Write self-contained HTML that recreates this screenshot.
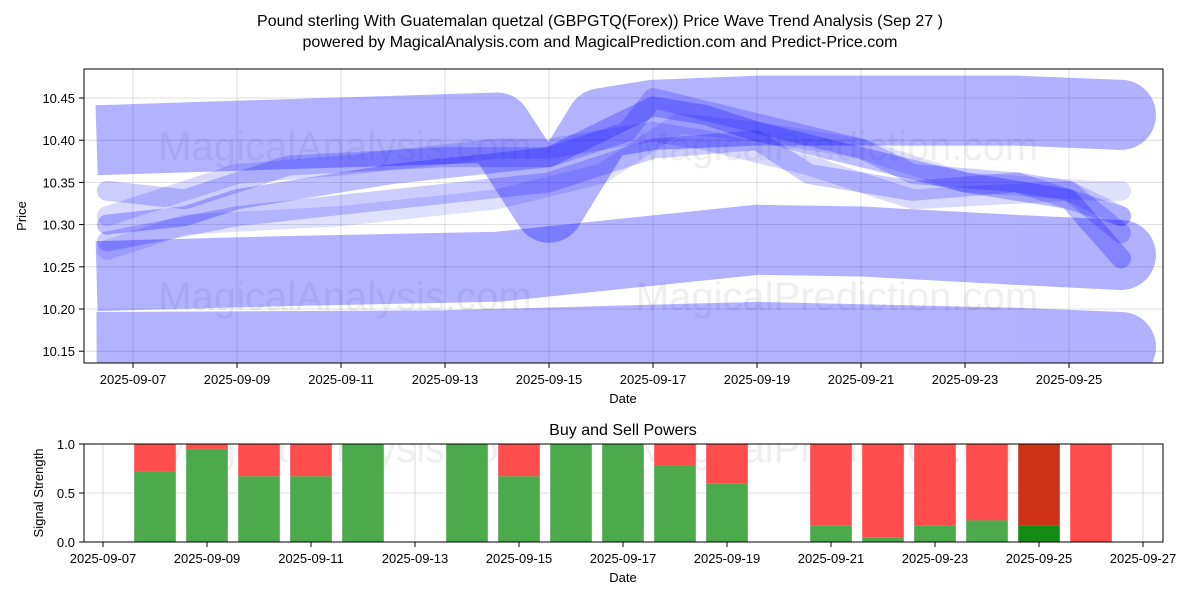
<!DOCTYPE html>
<html><head><meta charset="utf-8"><style>
body{margin:0;background:#fff;width:1200px;height:600px;overflow:hidden}
svg{font-family:"Liberation Sans","DejaVu Sans",sans-serif}
</style></head><body>
<svg id="c" width="1200" height="600" xmlns="http://www.w3.org/2000/svg">
<rect width="1200" height="600" fill="#fff"/>
<text x="600" y="26" text-anchor="middle" font-size="16">Pound sterling With Guatemalan quetzal (GBPGTQ(Forex)) Price Wave Trend Analysis (Sep 27 )</text>
<text x="600" y="47" text-anchor="middle" font-size="16">powered by MagicalAnalysis.com and MagicalPrediction.com and Predict-Price.com</text>
<defs><clipPath id="cp1"><rect x="84" y="69" width="1079" height="294"/></clipPath><clipPath id="cp2"><rect x="84" y="444" width="1079" height="98"/></clipPath></defs>
<g id="topg"></g>
<g id="botg"></g>
</svg>
<script>
// top chart data
const bandDays = [[6.3,14,15,16,17,19,24,26],[6.3,10,14,19,21,24,26],[6.3,13,19,24,26]];
const bandVals = [[10.40,10.415,10.32,10.42,10.43,10.435,10.435,10.43],[10.239,10.245,10.25,10.282,10.28,10.27,10.264],[10.155,10.157,10.167,10.16,10.155]];
const waveDays = [[6.5,8,9,12,15,17,18,19,21,23,25,26],[6.5,8,10,13,15,16.5,17,19,21,22,24,26],[6.5,7.5,9,11,14,15,17,18,20,22,25,26],[6.5,9,12,15,17,19,20,22,24,25,26],[6.5,8,11,14,16,17.5,19,21,23,25.5,26]];
const waveVals = [[10.30,10.31,10.33,10.36,10.38,10.44,10.43,10.41,10.38,10.35,10.33,10.26],[10.34,10.33,10.37,10.38,10.38,10.41,10.45,10.42,10.39,10.36,10.35,10.31],[10.31,10.33,10.36,10.37,10.39,10.39,10.41,10.40,10.37,10.33,10.34,10.31],[10.28,10.31,10.33,10.35,10.39,10.40,10.36,10.34,10.35,10.34,10.29],[10.27,10.30,10.31,10.33,10.36,10.42,10.41,10.39,10.35,10.34,10.34]];
const waveOp = [0.25,0.2,0.15,0.2,0.12];
const yTicks = [10.15,10.20,10.25,10.30,10.35,10.40,10.45];
const xTickDays = [7,9,11,13,15,17,19,21,23,25];
// bottom chart data
const barDays = [8,9,10,11,12,14,15,16,17,18,19,21,22,23,24,25,26];
const buyVals = [0.72,0.95,0.67,0.67,1.0,1.0,0.67,1.0,1.0,0.78,0.6,0.17,0.05,0.17,0.22,0.17,0];
const bTicks = [0,0.5,1.0];
const bxTickDays = [7,9,11,13,15,17,19,21,23,25,27];

const NS="http://www.w3.org/2000/svg";
const xT=d=>133+(d-7)*52, yT=v=>98+(10.45-v)*844;
const xB=d=>103+(d-7)*52, yB=v=>542-v*98;
function mk(p,t,a){const e=document.createElementNS(NS,t);for(const k in a)e.setAttribute(k,a[k]);p.appendChild(e);return e;}
const topG=document.getElementById('topg'), botG=document.getElementById('botg');
xTickDays.forEach(d=>{const l=mk(topG,'line',{x1:xT(d),x2:xT(d),y1:69,y2:363,stroke:'#b0b0b0','stroke-width':0.8,opacity:0.5});


mk(topG,'line',{x1:xT(d),x2:xT(d),y1:363,y2:368,stroke:'#000'});
const t=mk(topG,'text',{x:xT(d),y:384,'text-anchor':'middle','font-size':13});t.textContent='2025-09-'+String(d).padStart(2,'0');

});
yTicks.forEach(v=>{const l=mk(topG,'line',{x1:84,x2:1163,y1:yT(v),y2:yT(v),stroke:'#b0b0b0','stroke-width':0.8,opacity:0.5});


mk(topG,'line',{x1:79,x2:84,y1:yT(v),y2:yT(v),stroke:'#000'});
const t=mk(topG,'text',{x:75,y:yT(v)+5,'text-anchor':'end','font-size':13});t.textContent=v.toFixed(2);

});
const g=mk(topG,'g',{'clip-path':'url(#cp1)'});
[['MagicalAnalysis.com',345,160],['MagicalPrediction.com',837,160],['MagicalAnalysis.com',345,310],['MagicalPrediction.com',837,310]].forEach(w=>{const t=mk(g,'text',{x:w[1],y:w[2],'text-anchor':'middle','font-size':40,fill:'#000',opacity:0.06});t.textContent=w[0];

});
bandDays.forEach((ds,i)=>{const bg=mk(g,'g',{opacity:0.3});
const pts=ds.map((d,j)=>xT(d)+','+yT(bandVals[i][j])).join(' ');
const p=mk(bg,'polyline',{points:pts,fill:'none',stroke:'#0000ff','stroke-width':70,'stroke-linejoin':'round','stroke-linecap':'butt'});


const n=ds.length-1;mk(bg,'circle',{cx:xT(ds[n]),cy:yT(bandVals[i][n]),r:35,fill:'#0000ff'});});
waveDays.forEach((ds,i)=>{const pts=ds.map((d,j)=>xT(d)+','+yT(waveVals[i][j])).join(' ');
const p=mk(g,'polyline',{points:pts,fill:'none',stroke:'#0000ff','stroke-opacity':waveOp[i],'stroke-width':20,'stroke-linejoin':'round','stroke-linecap':'round'});

});
mk(topG,'rect',{x:84,y:69,width:1079,height:294,fill:'none',stroke:'#000'});
let t=mk(topG,'text',{x:623,y:403,'text-anchor':'middle','font-size':13});t.textContent='Date';

t=mk(topG,'text',{x:26,y:216,'text-anchor':'middle','font-size':13,transform:'rotate(-90 26 216)'});t.textContent='Price';

t=mk(botG,'text',{x:623,y:435,'text-anchor':'middle','font-size':16});t.textContent='Buy and Sell Powers';

bxTickDays.forEach(d=>{const l=mk(botG,'line',{x1:xB(d),x2:xB(d),y1:444,y2:542,stroke:'#b0b0b0','stroke-width':0.8,opacity:0.5});


mk(botG,'line',{x1:xB(d),x2:xB(d),y1:542,y2:547,stroke:'#000'});
const tt=mk(botG,'text',{x:xB(d),y:563,'text-anchor':'middle','font-size':13});tt.textContent='2025-09-'+String(d).padStart(2,'0');

});
bTicks.forEach(v=>{const l=mk(botG,'line',{x1:84,x2:1163,y1:yB(v),y2:yB(v),stroke:'#b0b0b0','stroke-width':0.8,opacity:0.5});


mk(botG,'line',{x1:79,x2:84,y1:yB(v),y2:yB(v),stroke:'#000'});
const tt=mk(botG,'text',{x:75,y:yB(v)+5,'text-anchor':'end','font-size':13});tt.textContent=v.toFixed(1);

});
const g2=mk(botG,'g',{'clip-path':'url(#cp2)'});
[['MagicalAnalysis.com',345,462],['MagicalPrediction.com',837,462]].forEach(w=>{const tt=mk(g2,'text',{x:w[1],y:w[2],'text-anchor':'middle','font-size':40,fill:'#000',opacity:0.06});tt.textContent=w[0];

});
barDays.forEach((d,i)=>{const dark=d===25;const b=buyVals[i];
const s=mk(g2,'rect',{x:xB(d)-20.8,y:yB(1),width:41.6,height:yB(b)-yB(1),fill:dark?'#cc3319':'#ff4c4c'});


const r=mk(g2,'rect',{x:xB(d)-20.8,y:yB(b),width:41.6,height:yB(0)-yB(b),fill:dark?'#138a13':'#4caa4c'});

});
mk(botG,'rect',{x:84,y:444,width:1079,height:98,fill:'none',stroke:'#000'});
t=mk(botG,'text',{x:623,y:582,'text-anchor':'middle','font-size':13});t.textContent='Date';

t=mk(botG,'text',{x:43,y:493,'text-anchor':'middle','font-size':13,transform:'rotate(-90 43 493)'});t.textContent='Signal Strength';

</script>
</body></html>
